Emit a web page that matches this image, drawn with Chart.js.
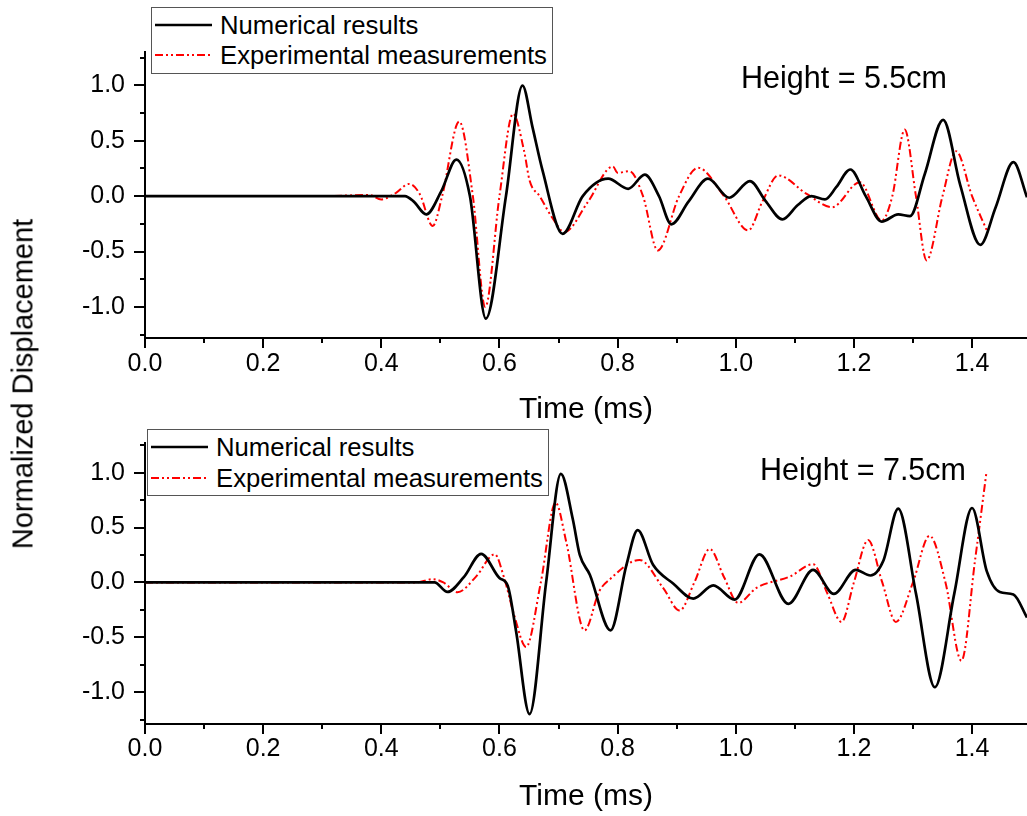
<!DOCTYPE html>
<html>
<head>
<meta charset="utf-8">
<title>Normalized Displacement</title>
<script src="https://cdn.jsdelivr.net/npm/chart.js@4.4.0/dist/chart.umd.min.js"></script>
<style>
    body { margin: 0; background: #fff; }
    #wrap { position: relative; width: 1027px; height: 816px; overflow: hidden; font-family: "Liberation Sans", Arial, sans-serif; }
    canvas { position: absolute; left: 0; }
    #c1 { top: 0; }
    #c2 { top: 408px; }
    .legend { position: absolute; background: #fff; border: 1px solid #555; box-sizing: border-box; }
    .row { position: absolute; left: 0; height: 30px; display: flex; align-items: center; font-size: 25.7px; color: #000; white-space: nowrap; }
    .row svg { margin-left: 3px; margin-right: 8px; }
    .note { position: absolute; font-size: 30.5px; color: #000; white-space: nowrap; }
    #ylab { position: absolute; left: 23px; top: 384px; font-size: 29px; white-space: nowrap; transform: translate(-50%, -50%) rotate(-90deg); }
</style>
</head>
<body>
<div id="wrap">
    <canvas id="c1" width="1027" height="425"></canvas>
    <canvas id="c2" width="1027" height="408"></canvas>

    <div id="ylab">Normalized Displacement</div>

    <div class="legend" style="left:151px; top:7px; width:402px; height:67px;">
        <div class="row" style="top:2px;">
            <svg width="57" height="6"><line x1="0" y1="3" x2="57" y2="3" stroke="#000" stroke-width="2.5"/></svg>Numerical results
        </div>
        <div class="row" style="top:32px;">
            <svg width="57" height="6"><line x1="0" y1="3" x2="57" y2="3" stroke="#ff0000" stroke-width="2" stroke-dasharray="8,3,2,3,2,3"/></svg>Experimental measurements
        </div>
    </div>
    <div class="legend" style="left:147px; top:429px; width:402px; height:67px;">
        <div class="row" style="top:2px;">
            <svg width="57" height="6"><line x1="0" y1="3" x2="57" y2="3" stroke="#000" stroke-width="2.5"/></svg>Numerical results
        </div>
        <div class="row" style="top:33px;">
            <svg width="57" height="6"><line x1="0" y1="3" x2="57" y2="3" stroke="#ff0000" stroke-width="2" stroke-dasharray="8,3,2,3,2,3"/></svg>Experimental measurements
        </div>
    </div>

    <div class="note" style="left:741px; top:60px;">Height = 5.5cm</div>
    <div class="note" style="left:760px; top:452px;">Height = 7.5cm</div>
</div>

<script>
// Height = 5.5cm, numerical results
const topNumT = [0, 0.44, 0.455, 0.476, 0.502, 0.527, 0.55, 0.577, 0.611, 0.639, 0.656, 0.673, 0.707, 0.741, 0.784, 0.818, 0.846, 0.87, 0.891, 0.92, 0.953, 0.989, 1.024, 1.05, 1.079, 1.105, 1.128, 1.151, 1.17, 1.194, 1.22, 1.247, 1.275, 1.295, 1.32, 1.351, 1.38, 1.414, 1.44, 1.47, 1.493];
const topNumV = [0, 0, -0.05, -0.165, 0.05, 0.33, 0.0, -1.105, 0.0, 0.997, 0.62, 0.23, -0.34, 0.0, 0.157, 0.066, 0.193, 0.0, -0.255, -0.05, 0.157, -0.015, 0.135, -0.04, -0.21, -0.08, 0.0, -0.03, 0.08, 0.24, 0.0, -0.23, -0.165, -0.18, 0.2, 0.688, 0.1, -0.44, -0.1, 0.306, -0.01];

// Height = 5.5cm, experimental measurements
const topExpT = [0, 0.1, 0.2, 0.3, 0.38, 0.4, 0.425, 0.447, 0.465, 0.487, 0.503, 0.532, 0.555, 0.576, 0.6, 0.623, 0.642, 0.651, 0.668, 0.69, 0.71, 0.75, 0.792, 0.8, 0.82, 0.843, 0.868, 0.904, 0.936, 0.98, 1.021, 1.045, 1.072, 1.12, 1.163, 1.21, 1.247, 1.265, 1.286, 1.305, 1.323, 1.35, 1.373, 1.4, 1.425];
const topExpV = [0, 0, 0, 0, 0.01, -0.03, 0.03, 0.11, 0.02, -0.27, 0.0, 0.673, 0.0, -1.0, 0.0, 0.742, 0.4, 0.14, 0.0, -0.2, -0.324, -0.05, 0.268, 0.21, 0.225, 0.0, -0.49, 0.0, 0.256, 0.0, -0.31, -0.05, 0.187, 0.02, -0.1, 0.126, -0.22, 0.0, 0.6, 0.0, -0.58, 0.0, 0.405, 0.0, -0.31];

// Height = 7.5cm, numerical results
const botNumT = [0, 0.49, 0.512, 0.54, 0.569, 0.6, 0.614, 0.628, 0.651, 0.679, 0.704, 0.724, 0.736, 0.753, 0.788, 0.815, 0.834, 0.86, 0.894, 0.928, 0.962, 0.998, 1.04, 1.089, 1.131, 1.166, 1.203, 1.228, 1.25, 1.275, 1.305, 1.337, 1.37, 1.4, 1.425, 1.447, 1.47, 1.493];
const botNumV = [0, 0, -0.087, 0.05, 0.26, 0.04, -0.03, -0.44, -1.2, 0.0, 0.988, 0.58, 0.25, 0.07, -0.437, 0.16, 0.476, 0.16, -0.01, -0.148, -0.027, -0.157, 0.256, -0.196, 0.115, -0.105, 0.115, 0.063, 0.2, 0.672, -0.1, -0.955, -0.1, 0.678, 0.1, -0.088, -0.11, -0.32];

// Height = 7.5cm, experimental measurements
const botExpT = [0, 0.2, 0.4, 0.46, 0.487, 0.505, 0.529, 0.56, 0.592, 0.608, 0.625, 0.645, 0.67, 0.695, 0.713, 0.744, 0.769, 0.786, 0.837, 0.877, 0.905, 0.93, 0.956, 0.98, 1.004, 1.035, 1.092, 1.131, 1.155, 1.179, 1.2, 1.224, 1.248, 1.271, 1.3, 1.328, 1.355, 1.382, 1.405, 1.424];
const botExpV = [0, 0, 0, 0, 0.03, 0.0, -0.09, 0.05, 0.256, 0.04, -0.3, -0.588, 0.0, 0.726, 0.37, -0.437, -0.08, 0.024, 0.205, -0.05, -0.256, 0.0, 0.305, 0.05, -0.187, -0.05, 0.054, 0.166, -0.1, -0.36, 0.0, 0.386, 0.0, -0.36, 0.0, 0.425, 0.0, -0.714, 0.2, 0.988];

const xMin = 0;
const xMax = 1.493;

function toPoints(ts, vs) {
    return ts.map((t, i) => ({ x: t, y: vs[i] }));
}

// Origin-style tick marks: long on labelled ticks, short on the rest
const tickMarks = {
    id: 'tickMarks',
    afterDraw(chart) {
        const ctx = chart.ctx;
        const area = chart.chartArea;
        ctx.save();
        ctx.strokeStyle = '#000';
        ctx.lineWidth = 2;
        const xs = chart.scales.x;
        xs.ticks.forEach(t => {
            const px = Math.round(xs.getPixelForValue(t.value));
            const len = t.label !== '' ? 10 : 5;
            ctx.beginPath();
            ctx.moveTo(px, area.bottom);
            ctx.lineTo(px, area.bottom + len);
            ctx.stroke();
        });
        const ys = chart.scales.y;
        ys.ticks.forEach(t => {
            const py = Math.round(ys.getPixelForValue(t.value));
            const len = t.label !== '' ? 11 : 5;
            ctx.beginPath();
            ctx.moveTo(area.left, py);
            ctx.lineTo(area.left - len, py);
            ctx.stroke();
        });
        ctx.restore();
    }
};

function makeChart(id, numT, numV, expT, expV, yMin, yMax, padTop, xHeight, labelPad, titlePad) {
    return new Chart(document.getElementById(id), {
        type: 'line',
        data: {
            datasets: [{
                label: 'Numerical results',
                data: toPoints(numT, numV),
                borderColor: '#000',
                borderWidth: 2.7,
                pointRadius: 0,
                cubicInterpolationMode: 'monotone',
                order: 1
            }, {
                label: 'Experimental measurements',
                data: toPoints(expT, expV),
                borderColor: '#ff0000',
                borderWidth: 2,
                borderDash: [8, 3, 2, 3, 2, 3],
                pointRadius: 0,
                cubicInterpolationMode: 'monotone',
                order: 2
            }]
        },
        options: {
            responsive: false,
            animation: false,
            layout: { padding: { top: padTop, left: 0, right: 0, bottom: 0 } },
            plugins: {
                legend: { display: false },
                tooltip: { enabled: false }
            },
            scales: {
                x: {
                    type: 'linear',
                    min: xMin,
                    max: xMax,
                    afterFit: s => { s.height = xHeight; },
                    grid: { display: false, drawTicks: false },
                    border: { display: true, color: '#000', width: 2 },
                    ticks: {
                        stepSize: 0.1,
                        includeBounds: false,
                        autoSkip: false,
                        maxRotation: 0,
                        padding: labelPad,
                        color: '#000',
                        font: { family: 'Liberation Sans', size: 25 },
                        callback: v => (Math.round(v * 10) % 2 === 0 ? v.toFixed(1) : '')
                    },
                    title: {
                        display: true,
                        text: 'Time (ms)',
                        color: '#000',
                        padding: { top: 0, bottom: titlePad },
                        font: { family: 'Liberation Sans', size: 30 }
                    }
                },
                y: {
                    min: yMin,
                    max: yMax,
                    afterFit: s => { s.width = 145; },
                    grid: { display: false, drawTicks: false },
                    border: { display: true, color: '#000', width: 2 },
                    ticks: {
                        stepSize: 0.25,
                        includeBounds: false,
                        autoSkip: false,
                        padding: 20,
                        color: '#000',
                        font: { family: 'Liberation Sans', size: 25 },
                        callback: v => (Math.round(v * 4) % 2 === 0 ? v.toFixed(1) : '')
                    }
                }
            }
        },
        plugins: [tickMarks]
    });
}

makeChart('c1', topNumT, topNumV, topExpT, topExpV, -1.28, 1.3, 52, 87, 11, -3);
makeChart('c2', botNumT, botNumV, botExpT, botExpV, -1.29, 1.27, 34, 92, 10, 1);
</script>
</body>
</html>
